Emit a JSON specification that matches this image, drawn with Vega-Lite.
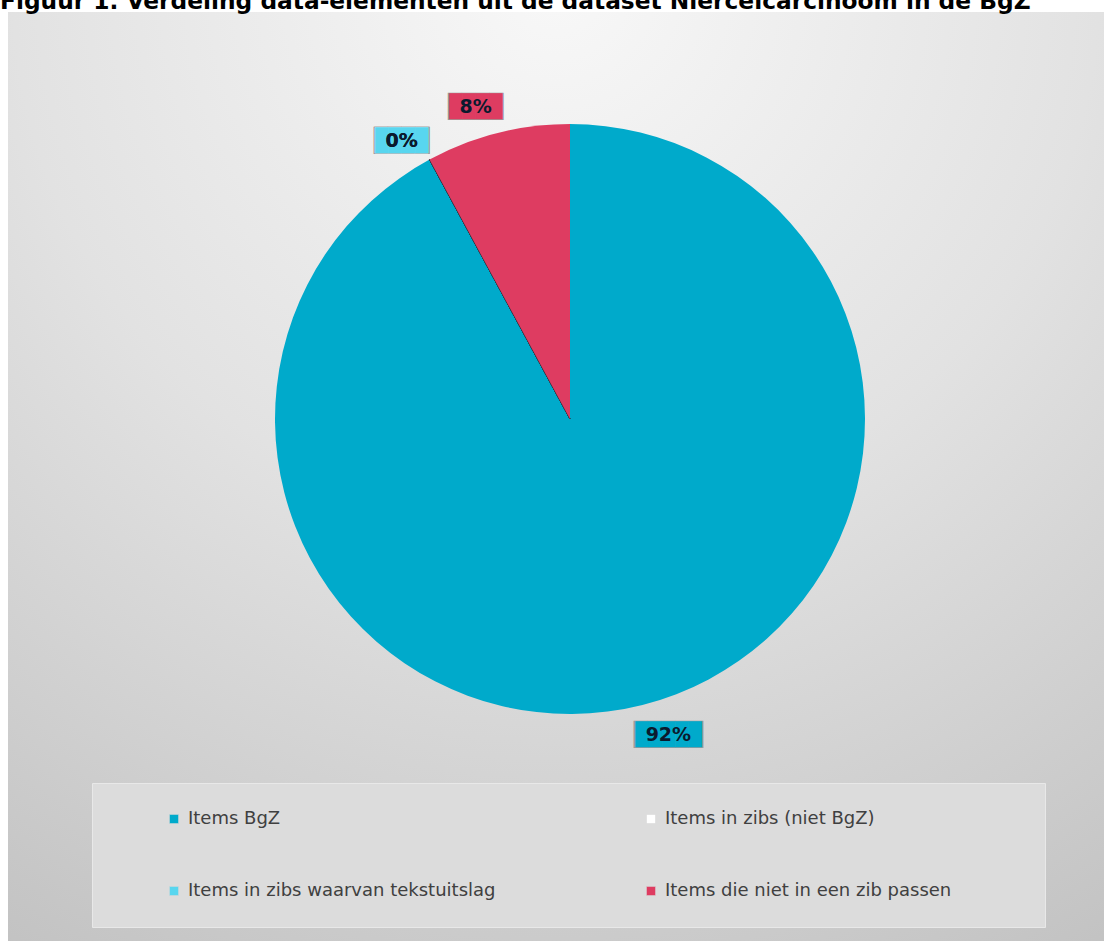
{
  "$schema": "https://vega.github.io/schema/vega-lite/v6.json",
  "width": 1096,
  "height": 929,
  "autosize": {"type": "none"},
  "padding": {"left": 8, "top": 12, "right": 0, "bottom": 0},
  "background": "#ffffff",
  "title": {
    "text": "Figuur 1. Verdeling data-elementen uit de dataset Niercelcarcinoom in de BgZ",
    "anchor": "start",
    "font": "DejaVu Sans",
    "fontSize": 23.3,
    "fontWeight": "bold",
    "color": "#000000",
    "offset": 0,
    "baseline": "bottom",
    "dx": -8,
    "dy": 25
  },
  "view": {
    "stroke": null,
    "fill": {
      "gradient": "radial",
      "x1": 0.5, "y1": 0.05, "r1": 0,
      "x2": 0.5, "y2": 0.05, "r2": 1.1,
      "stops": [
        {"offset": 0, "color": "#f8f8f8"},
        {"offset": 0.45, "color": "#e2e2e2"},
        {"offset": 1, "color": "#bdbdbd"}
      ]
    }
  },
  "data": {
    "values": [
      {"item": "Items BgZ", "value": 0.921, "rank": 1},
      {"item": "Items in zibs (niet BgZ)", "value": 0, "rank": 2},
      {"item": "Items in zibs waarvan tekstuitslag", "value": 0, "rank": 3},
      {"item": "Items die niet in een zib passen", "value": 0.079, "rank": 4}
    ]
  },
  "encoding": {
    "theta": {"field": "value", "type": "quantitative", "stack": true},
    "order": {"field": "rank", "type": "ordinal"},
    "color": {
      "field": "item",
      "type": "nominal",
      "scale": {
        "domain": ["Items BgZ", "Items in zibs (niet BgZ)", "Items in zibs waarvan tekstuitslag", "Items die niet in een zib passen"],
        "range": ["#00aacb", "#ffffff", "#58d6ef", "#de3c61"]
      },
      "legend": {
        "orient": "none",
        "legendX": 84,
        "legendY": 771,
        "columns": 2,
        "direction": "horizontal",
        "padding": 27,
        "rowPadding": 54,
        "columnPadding": 146,
        "fillColor": "#dcdcdc",
        "strokeColor": "#e8e8e8",
        "labelFont": "DejaVu Sans",
        "labelFontSize": 18,
        "labelColor": "#404040",
        "labelOffset": 5,
        "labelLimit": 0,
        "labelExpr": "indexof(datum.label, 'passen') >= 0 ? datum.label + '\u2800\u2800\u2800\u2800\u2800' : datum.label",
        "symbolType": "square",
        "symbolSize": 81,
        "symbolStrokeWidth": 0.5,
        "symbolStrokeColor": "#d6d6d6",
        "title": "\u00a0",
        "titleOrient": "left",
        "titleFontSize": 18,
        "titlePadding": 46
      }
    }
  },
  "layer": [
    {
      "mark": {"type": "arc", "radius": 295, "xOffset": 14, "yOffset": -57.5, "strokeWidth": 1},
      "encoding": {
        "stroke": {"condition": {"test": "datum.value == 0", "value": "#2a3440"}, "value": null}
      }
    },
    {
      "mark": {"type": "text", "radius": 328, "thetaOffset": -0.05, "xOffset": 16, "yOffset": -55.5, "font": "DejaVu Sans Mono", "fontSize": 23, "baseline": "middle", "align": "center"},
      "encoding": {
        "color": {"value": "#9a9a9a"},
        "text": {"condition": {"test": "datum.value > 0.5", "value": "█████"}, "value": "████"}
      }
    },
    {
      "mark": {"type": "text", "radius": 328, "thetaOffset": -0.05, "xOffset": 16, "yOffset": -55.5, "font": "DejaVu Sans Mono", "fontSize": 22, "baseline": "middle", "align": "center"},
      "encoding": {
        "text": {"condition": {"test": "datum.value > 0.5", "value": "█████"}, "value": "████"}
      }
    },
    {
      "mark": {"type": "text", "radius": 328, "thetaOffset": -0.05, "xOffset": 16, "yOffset": -55.5, "font": "DejaVu Sans", "fontSize": 19, "fontWeight": "bold", "baseline": "middle", "align": "center"},
      "encoding": {
        "color": {"value": "#0b1a2e"},
        "text": {"field": "value", "type": "quantitative", "format": ".0%"}
      }
    }
  ]
}
